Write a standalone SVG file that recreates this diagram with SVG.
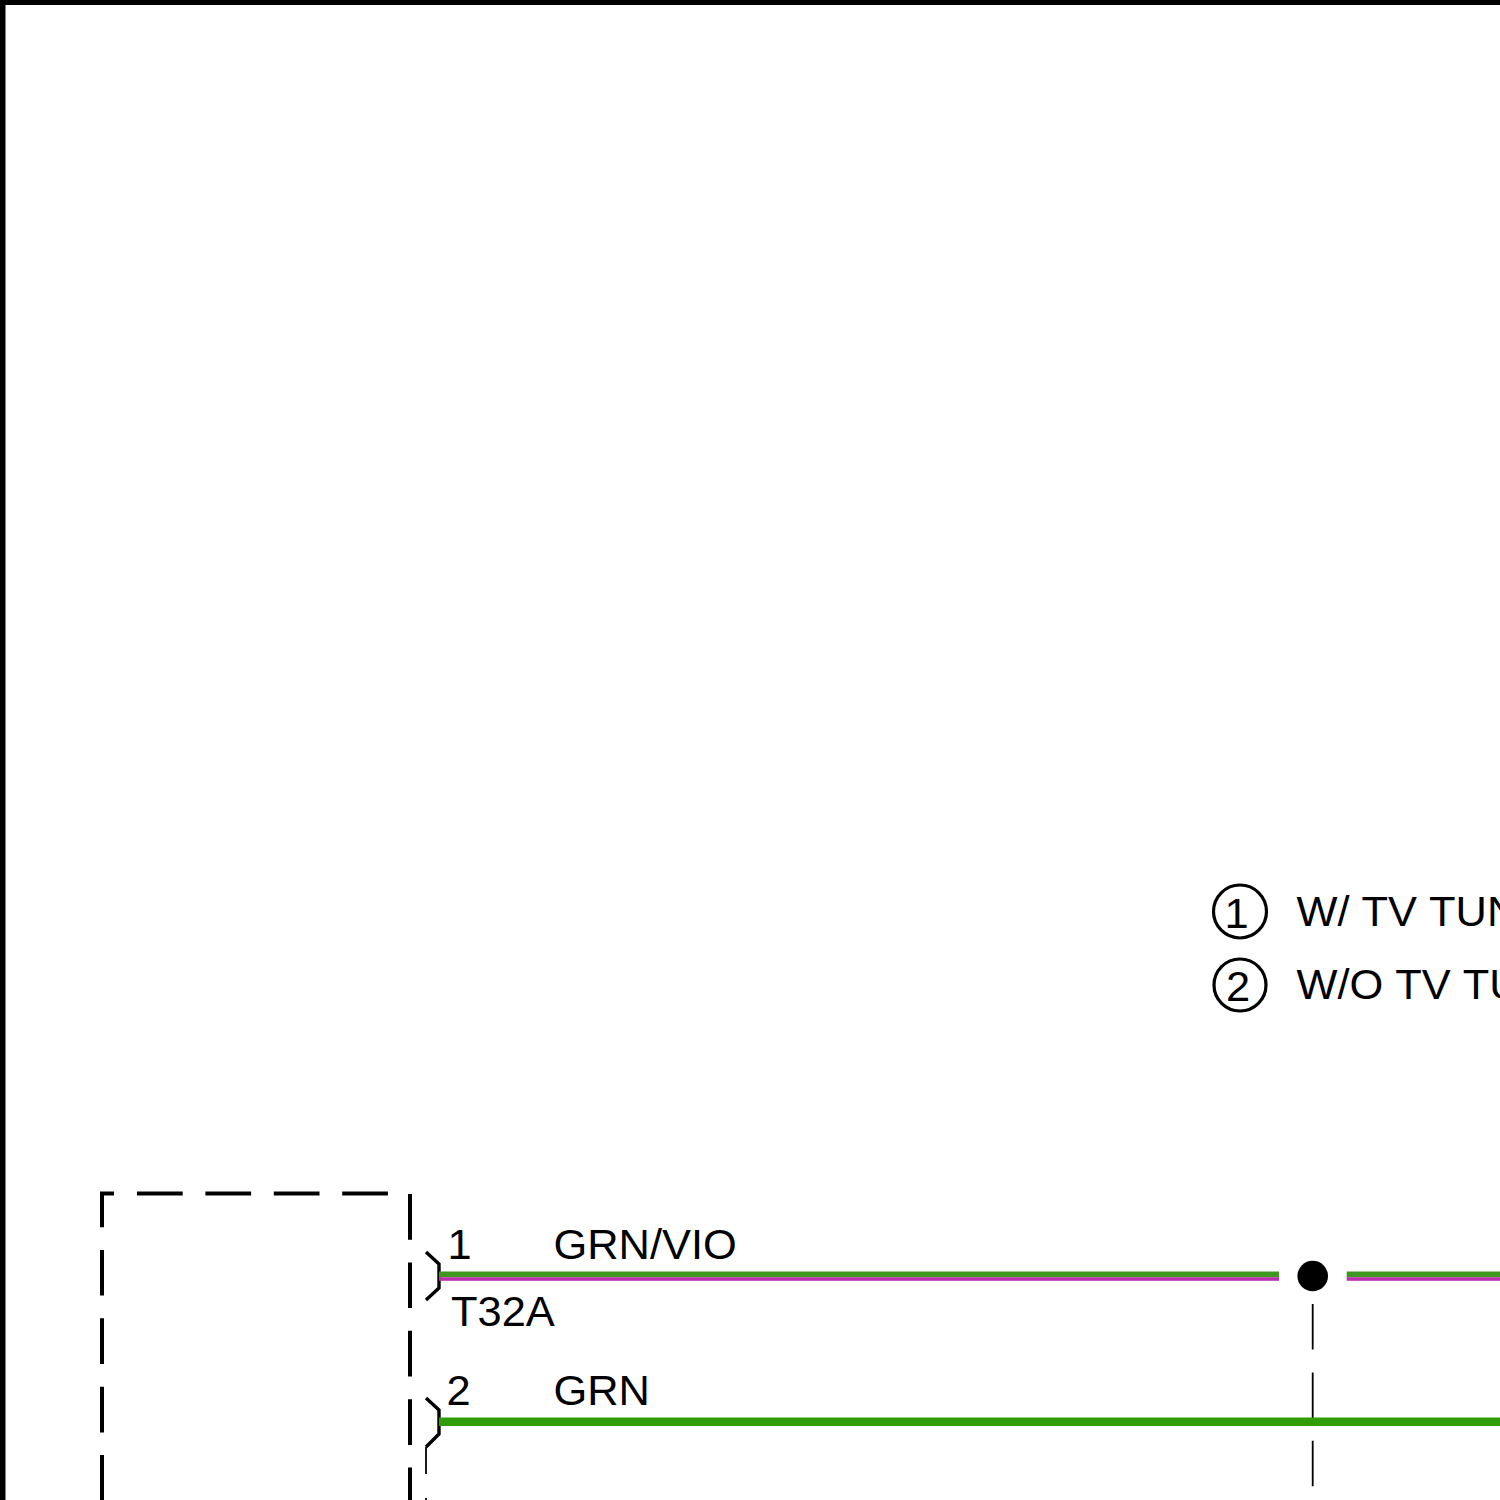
<svg xmlns="http://www.w3.org/2000/svg" width="1500" height="1500" viewBox="0 0 1500 1500">
<style>
text{font-family:"Liberation Sans",Arial,sans-serif;font-size:43.4px;fill:#000}
.note{font-kerning:none}
.box{fill:none;stroke:#000;stroke-width:4;stroke-dasharray:45.7 22.7}
.thin{fill:none;stroke:#000;stroke-width:1.8}
.pin{fill:none;stroke:#000;stroke-width:3.400}
.dash{stroke-dasharray:45.5 22.9}
.grn{fill:#2f9c08}
.gv{fill:#3f9722}
.vio{fill:#bb30ae}
.ring{fill:#fff;stroke:#000;stroke-width:3.200}
</style>
<rect width="1500" height="1500" fill="#fff"/>
<g id="frame"><path d="M0 0H1500V5H5.500V1500H0Z" fill="#000"/></g>
<g id="component">
<path class="box" d="M114 1193.500H102V1500"/>
<path class="box" d="M137 1193.500H390"/>
<path class="box" d="M410 1194V1500"/>
</g>
<g id="note-1"><circle class="ring" cx="1240" cy="911.500" r="26.500"/><text x="1224.500" y="927.500">1</text><text class="note" x="1296.500" y="925.500">W/ TV TUN</text></g>
<g id="note-2"><circle class="ring" cx="1240" cy="985" r="26"/><text x="1226" y="1000.500">2</text><text class="note" x="1296.500" y="999">W/O TV TU</text></g>
<g id="pin-1">
<path class="pin" d="M426 1252L439 1264V1288L426 1300"/>
<text x="447.500" y="1259">1</text><text x="451" y="1326">T32A</text>
</g>
<g id="pin-2">
<path class="pin" d="M426 1398L439 1410V1434L426 1447"/>
<text x="446.500" y="1405">2</text>
</g>
<g id="connectors">
<path class="thin" d="M426 1447V1474M426 1498V1500"/>
<path class="thin dash" d="M1312.700 1304V1500"/>
<rect class="gv" x="439" y="1271.500" width="840" height="5.700"/>
<rect class="vio" x="439" y="1277.200" width="840" height="3.600"/>
<rect class="gv" x="1346.700" y="1271.500" width="153.300" height="5.700"/>
<rect class="vio" x="1346.700" y="1277.200" width="153.300" height="3.600"/>
<rect class="grn" x="439" y="1417.500" width="1061" height="8.500"/>
<text x="553.500" y="1259">GRN/VIO</text>
<text x="553.500" y="1405">GRN</text>
</g>
<g id="splice"><circle cx="1312.700" cy="1276" r="15.300" fill="#000"/></g>
</svg>
